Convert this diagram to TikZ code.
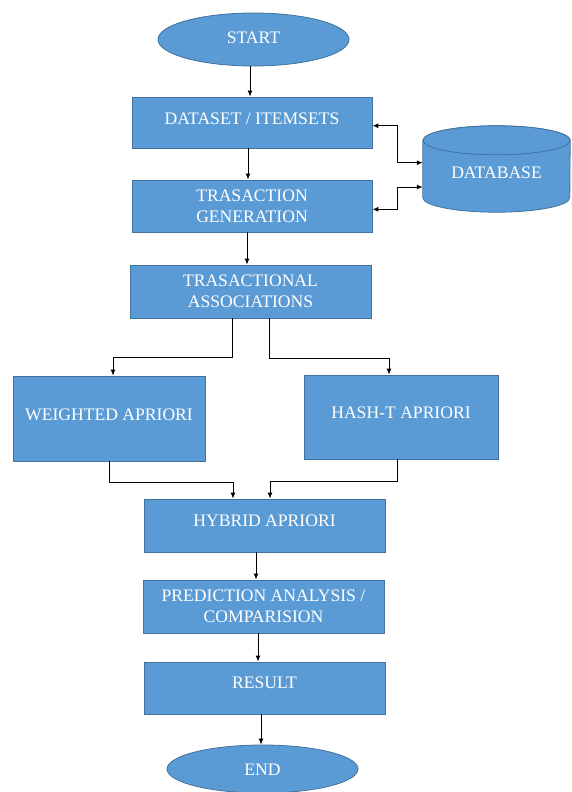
\documentclass[tikz,border=0pt]{standalone}
\usepackage{fontspec}
\setmainfont{Liberation Serif}
\usetikzlibrary{arrows.meta,shapes.geometric}
\definecolor{boxfill}{HTML}{5B9BD5}
\definecolor{boxline}{HTML}{41719C}

\begin{document}
\begin{tikzpicture}[x=1pt, y=-1pt,
  box/.style={draw=boxline, fill=boxfill, line width=0.8pt, inner sep=0pt},
  term/.style={box, ellipse},
  lbl/.style={text=white, font=\fontsize{17.6}{21}\selectfont, align=center, inner sep=0pt},
  tip/.tip={Latex[length=6pt,width=5pt]},
  arr/.style={draw=black, line width=1pt, -tip},
  arr2/.style={draw=black, line width=1pt, tip-tip}]

\useasboundingbox (0,0) rectangle (571,792);

% process boxes
\node[term, minimum width=191pt, minimum height=53pt] (st) at (253.5,39.5) {};
\node[box, minimum width=240pt, minimum height=51pt] (ds) at (252,122.5) {};
\node[box, minimum width=240pt, minimum height=52pt] (tg) at (252,206) {};
\node[box, minimum width=241pt, minimum height=53pt] (ta) at (250.5,291.5) {};
\node[box, minimum width=192pt, minimum height=85pt] (wa) at (109,418.5) {};
\node[box, minimum width=194pt, minimum height=84pt] (ha) at (401,417) {};
\node[box, minimum width=241pt, minimum height=53pt] (hy) at (264.5,525.5) {};
\node[box, minimum width=241pt, minimum height=53pt] (pr) at (263.5,606.5) {};
\node[box, minimum width=241pt, minimum height=52pt] (re) at (264.5,688) {};
\node[term, minimum width=191pt, minimum height=48pt] (fin) at (262.5,769) {};

% database cylinder
\node[minimum width=147pt, minimum height=86pt, inner sep=0pt] (db) at (496.5,169) {};
\path[box] ([yshift=-14.5pt]db.north west) -- ([yshift=14.5pt]db.south west)
  arc[start angle=180, end angle=360, x radius=73.5pt, y radius=14.5pt]
  -- ([yshift=-14.5pt]db.north east)
  arc[start angle=0, end angle=180, x radius=73.5pt, y radius=14.5pt] -- cycle;
\path[box] ([yshift=-14.5pt]db.north) ellipse [x radius=73.5pt, y radius=14.5pt];

% labels
\node[lbl, anchor=base] (tst) at ([yshift=-4pt]st.center) {START};
\node[lbl, anchor=base] (tds) at ([yshift=-1.5pt]ds.center) {DATASET / ITEMSETS};
\node[lbl] (ttg) at (tg.center) {TRASACTION\\GENERATION};
\node[lbl, anchor=base] (tdb) at ([yshift=-9.5pt]db.center) {DATABASE};
\node[lbl] (tta) at (ta.center) {TRASACTIONAL\\ASSOCIATIONS};
\node[lbl, anchor=base] (twa) at ([yshift=-1.5pt]wa.center) {WEIGHTED APRIORI};
\node[lbl, anchor=base] (tha) at ([yshift=-1.5pt]ha.center) {HASH-T APRIORI};
\node[lbl, anchor=base] (thy) at ([yshift=-0.5pt]hy.center) {HYBRID APRIORI};
\node[lbl] (tpr) at (pr.center) {PREDICTION ANALYSIS /\\COMPARISION};
\node[lbl, anchor=base] (tre) at ([yshift=-0.5pt]re.center) {RESULT};
\node[lbl, anchor=base] (tfin) at ([yshift=-6pt]fin.center) {END};

% main flow
\draw[arr] ([xshift=-3.5pt]st.south) -- ([xshift=-3.5pt]st.south |- ds.north);
\draw[arr] ([xshift=-4pt]ds.south) -- ([xshift=-4pt]ds.south |- tg.north);
\draw[arr] ([xshift=-5pt]tg.south) -- ([xshift=-5pt]tg.south |- ta.north);

% exchange with the database
\draw[arr2] ([yshift=-3.2pt]ds.east) -| ([xshift=-25.5pt,yshift=6.3pt]db.west) -- ([yshift=6.3pt]db.west);
\draw[arr2] ([yshift=-3.3pt]tg.east) -| ([xshift=-25.5pt,yshift=-18pt]db.west) -- ([yshift=-18pt]db.west);

% split into the two algorithms
\draw[arr] ([xshift=-18.5pt]ta.south) -- ++(0,39) -| ([xshift=4pt]wa.north);
\draw[arr] ([xshift=18.5pt]ta.south) -- ++(0,40) -| ([xshift=-12pt]ha.north);

% merge into the hybrid
\draw[arr] (wa.south) -- ++(0,21) -| ([xshift=-31.5pt]hy.north);
\draw[arr] ([xshift=-4pt]ha.south) -- ++(0,22) -| ([xshift=5.5pt]hy.north);

% remaining flow
\draw[arr] ([xshift=-8.5pt]hy.south) -- ([xshift=-8.5pt]hy.south |- pr.north);
\draw[arr] ([xshift=-5.5pt]pr.south) -- ([xshift=-5.5pt]pr.south |- re.north);
\draw[arr] ([xshift=-3.5pt]re.south) -- ([xshift=-3.5pt]re.south |- fin.north);
\end{tikzpicture}
\end{document}
